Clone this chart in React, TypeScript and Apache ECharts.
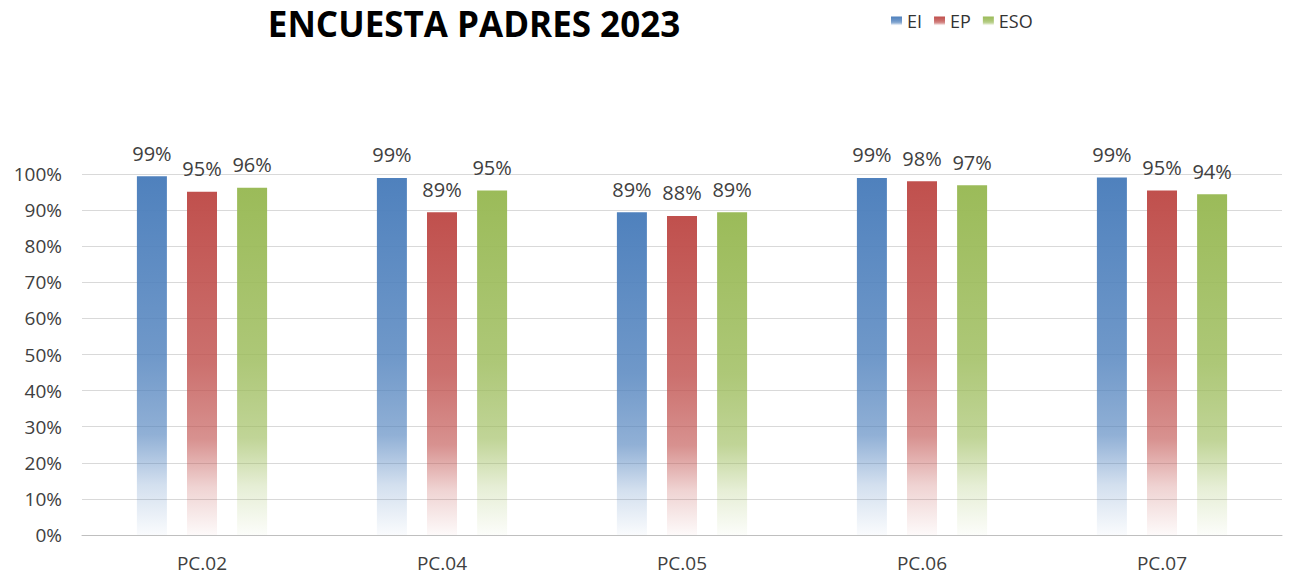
import React, { useEffect, useRef } from "react";
import * as echarts from "echarts";

const categories = ["PC.02", "PC.04", "PC.05", "PC.06", "PC.07"];
const seriesNames = ["EI", "EP", "ESO"];
const eiValues = [99.4, 98.9, 89.4, 98.9, 99.0];
const epValues = [95.1, 89.4, 88.4, 98.0, 95.4];
const esoValues = [96.2, 95.4, 89.4, 96.9, 94.4];
const seriesColors = ["#4F81BD", "#C0504D", "#9BBB59"];
const titleText = "ENCUESTA PADRES 2023";

function grad(c: string) {
  return new echarts.graphic.LinearGradient(0, 0, 0, 1, [
    { offset: 0, color: c },
    { offset: 0.5, color: c + "D0" },
    { offset: 0.72, color: c + "A0" },
    { offset: 0.86, color: c + "40" },
    { offset: 1, color: c + "08" },
  ]);
}

export default function App() {
  const ref = useRef<HTMLDivElement>(null);
  useEffect(() => {
    document.body.style.margin = "0";
    const chart = echarts.init(ref.current!, null, { renderer: "svg" });
    const font = "'Open Sans', 'Noto Sans', sans-serif";
    const data = [eiValues, epValues, esoValues];
    chart.setOption({
      animation: false,
      backgroundColor: "#ffffff",
      title: {
        text: titleText,
        left: 469,
        top: 1,
        textAlign: "center",
        textStyle: { fontFamily: font, fontWeight: "bold", fontSize: 35, color: "#000" },
      },
      legend: {
        data: seriesNames,
        left: 886,
        top: 7,
        itemWidth: 11,
        itemHeight: 9,
        itemGap: 12,
        icon: "rect",
        textStyle: { fontFamily: font, fontSize: 18, color: "#333", padding: [0, 0, 0, 0] },
      },
      grid: { left: 82, top: 174, width: 1200, height: 361, containLabel: false },
      xAxis: {
        type: "category",
        data: categories,
        axisTick: { show: false },
        axisLine: { lineStyle: { color: "#bfbfbf" } },
        axisLabel: { fontFamily: font, fontSize: 19, color: "#404040", margin: 18 },
      },
      yAxis: {
        type: "value",
        min: 0,
        max: 100,
        interval: 10,
        axisLabel: { formatter: "{value}%", fontFamily: font, fontSize: 19, color: "#404040", margin: 20 },
        splitLine: { lineStyle: { color: "#d9d9d9" } },
        axisLine: { show: false },
        axisTick: { show: false },
      },
      series: seriesNames.map((n, i) => ({
        name: n,
        type: "bar",
        data: data[i],
        barWidth: 30,
        barGap: "67%",
        itemStyle: { color: grad(seriesColors[i]) },
        label: {
          show: true,
          position: "top",
          distance: 13,
          formatter: (p: any) => Math.round(p.value) + "%",
          fontFamily: font,
          fontSize: 20,
          color: "#404040",
        },
      })),
      color: seriesColors,
    });
    return () => chart.dispose();
  }, []);
  return <div ref={ref} style={{ width: 1290, height: 578 }} />;
}
